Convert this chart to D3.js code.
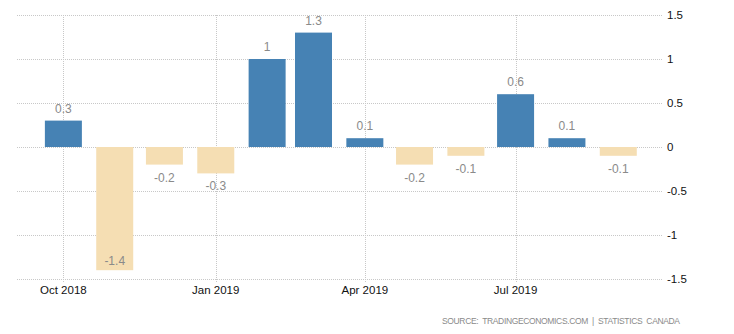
<!DOCTYPE html>
<html>
<head>
<meta charset="utf-8">
<script src="https://cdn.jsdelivr.net/npm/d3@7"></script>
<style>
  body { margin: 0; background: #fff; }
  svg { display: block; }
</style>
</head>
<body>
<div id="chart"></div>
<script>
// DATA
var months = ["2018-10","2018-11","2018-12","2019-01","2019-02","2019-03","2019-04","2019-05","2019-06","2019-07","2019-08","2019-09"];
var values = [0.3, -1.4, -0.2, -0.3, 1, 1.3, 0.1, -0.2, -0.1, 0.6, 0.1, -0.1];
var x_ticks = ["2018-10","2019-01","2019-04","2019-07"];
var y_ticks = [1.5, 1, 0.5, 0, -0.5, -1, -1.5];
var source_text = "SOURCE:  TRADINGECONOMICS.COM  |  STATISTICS  CANADA";

var width = 734, height = 334;
var plot = {left: 17, right: 663, top: 15, bottom: 279};
var bar_w = 37;

var parse = d3.timeParse("%Y-%m");
var data = months.map(function(m, i){ return {date: parse(m), value: values[i]}; });

var svg = d3.select("#chart").append("svg")
  .attr("width", width)
  .attr("height", height);

var x = d3.scaleTime()
  .domain([new Date(2018, 8, 3), new Date(2019, 8, 28)])
  .range([plot.left, plot.right]);

var y = d3.scaleLinear()
  .domain([-1.5, 1.5])
  .range([plot.bottom, plot.top]);

// grid
var grid = svg.append("g").attr("class","grid");
grid.selectAll("line.h")
  .data(y_ticks)
  .enter().append("line")
    .attr("class","h")
    .attr("x1", plot.left)
    .attr("x2", plot.right)
    .attr("y1", function(d){ return Math.round(y(d)) + 0.5; })
    .attr("y2", function(d){ return Math.round(y(d)) + 0.5; })
    .attr("stroke","#c8c8c8")
    .attr("stroke-dasharray","1,1");

grid.selectAll("line.v")
  .data(x_ticks.map(parse))
  .enter().append("line")
    .attr("class","v")
    .attr("x1", function(d){ return Math.round(x(d)) + 0.5; })
    .attr("x2", function(d){ return Math.round(x(d)) + 0.5; })
    .attr("y1", plot.top)
    .attr("y2", plot.bottom + 4)
    .attr("stroke","#c8c8c8")
    .attr("stroke-dasharray","1,1");

// bars
svg.selectAll("rect.bar")
  .data(data)
  .enter().append("rect")
    .attr("class","bar")
    .attr("x", function(d){ return x(d.date) - bar_w/2; })
    .attr("width", bar_w)
    .attr("y", function(d){ return d.value >= 0 ? y(d.value) : y(0); })
    .attr("height", function(d){ return Math.abs(y(d.value) - y(0)); })
    .attr("fill", function(d){ return d.value >= 0 ? "#4682b4" : "#f5deb3"; });

// value labels
svg.selectAll("text.val")
  .data(data)
  .enter().append("text")
    .attr("class","val")
    .attr("x", function(d){ return x(d.date); })
    .attr("y", function(d){
      if(d.value >= 0) return y(d.value) - 8;
      var below = y(d.value) + 17;
      if(below > plot.bottom) return y(d.value) - 5; // no room, put it inside
      return below;
    })
    .attr("text-anchor","middle")
    .attr("fill","#8a8a8a")
    .style("font-family","'Liberation Sans', Arial, sans-serif")
    .style("font-size","12px")
    .text(function(d){ return d.value; });

// y axis labels (right)
svg.selectAll("text.ytick")
  .data(y_ticks)
  .enter().append("text")
    .attr("class","ytick")
    .attr("x", plot.right + 4)
    .attr("y", function(d){ return y(d) + 4; })
    .attr("fill","#111")
    .style("font-family","'Liberation Sans', Arial, sans-serif")
    .style("font-size","11.5px")
    .text(function(d){ return d; });

// x axis labels
var fmt = d3.timeFormat("%b %Y");
svg.selectAll("text.xtick")
  .data(x_ticks.map(parse))
  .enter().append("text")
    .attr("class","xtick")
    .attr("x", function(d){ return x(d); })
    .attr("y", plot.bottom + 15)
    .attr("text-anchor","middle")
    .attr("fill","#111")
    .style("font-family","'Liberation Sans', Arial, sans-serif")
    .style("font-size","11.5px")
    .text(function(d){ return fmt(d); });

// source
svg.append("text")
  .attr("x", 442)
  .attr("y", 324)
  .attr("textLength", 238)
  .attr("lengthAdjust","spacing")
  .attr("fill","#8a8a8a")
  .style("font-family","'Liberation Sans', Arial, sans-serif")
  .style("font-size","8.5px")
  .style("white-space","pre")
  .text(source_text);
</script>
</body>
</html>
